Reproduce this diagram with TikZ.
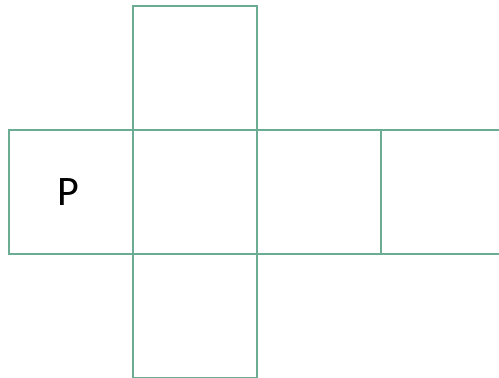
\documentclass[tikz,border=0pt]{standalone}
\usepackage{fontspec}
\setmainfont{Carlito}
\definecolor{netgreen}{RGB}{108,172,146}
\begin{document}
\begin{tikzpicture}[x=1pt,y=-1pt,
  face/.style={draw=netgreen,line width=2.6pt,fill=white,minimum width=124pt,minimum height=124pt,inner sep=0pt,font=\fontsize{42}{48}\selectfont}]
\useasboundingbox (0,0) rectangle (499,378);
\clip (0,0) rectangle (499,378);
\fill[white] (0,0) rectangle (499,378);
\node[face] (top) at (195,68) {};
\node[face] (bottom) at (195,316) {};
\node[face] (left) at (71,192) {\kern-5pt P};
\node[face] (mid) at (195,192) {};
\node[face] (right) at (319,192) {};
\node[face] (far) at (443,192) {};
\end{tikzpicture}
\end{document}
